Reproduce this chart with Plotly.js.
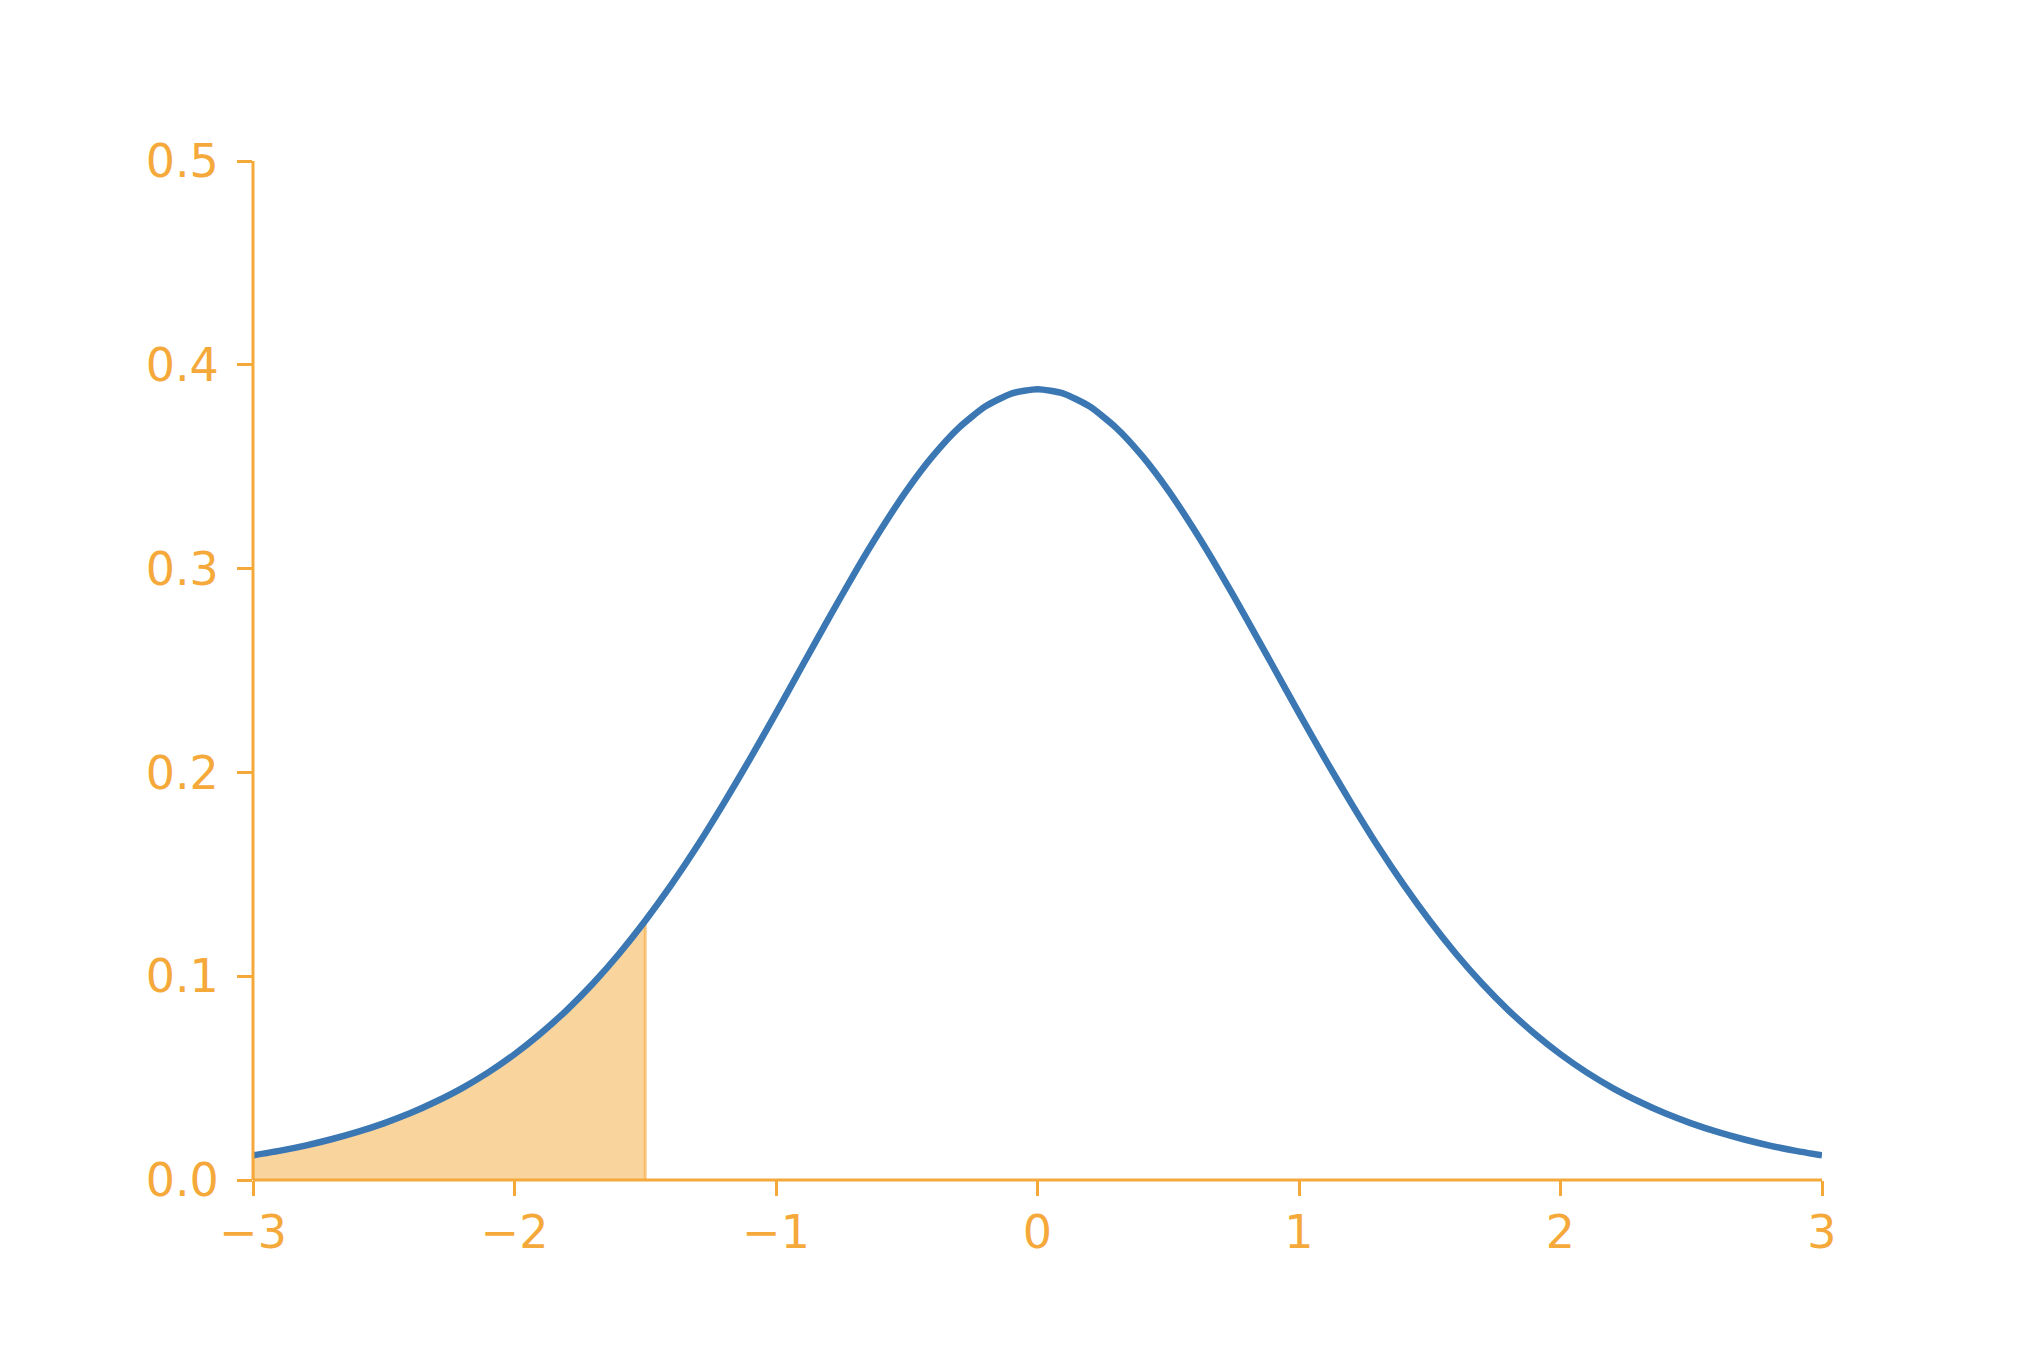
<!DOCTYPE html>
<html>
<head>
<meta charset="utf-8">
<script src="https://cdn.plot.ly/plotly-3.0.1.min.js"></script>
<style>html,body{margin:0;padding:0;background:#fff;}#chart{width:2025px;height:1350px;}</style>
</head>
<body>
<div id="chart"></div>
<script>
// Values (density curve, x step 0.1)
const xValues = [-3.0,-2.9,-2.8,-2.7,-2.6,-2.5,-2.4,-2.3,-2.2,-2.1,-2.0,-1.9,-1.8,-1.7,-1.6,-1.5,-1.4,-1.3,-1.2,-1.1,-1.0,-0.9,-0.8,-0.7,-0.6,-0.5,-0.4,-0.3,-0.2,-0.1,0.0,0.1,0.2,0.3,0.4,0.5,0.6,0.7,0.8,0.9,1.0,1.1,1.2,1.3,1.4,1.5,1.6,1.7,1.8,1.9,2.0,2.1,2.2,2.3,2.4,2.5,2.6,2.7,2.8,2.9,3.0];
const yValues = [0.0121,0.0143,0.0169,0.0200,0.0236,0.0278,0.0327,0.0385,0.0451,0.0528,0.0617,0.0719,0.0834,0.0964,0.1110,0.1272,0.1449,0.1641,0.1848,0.2065,0.2291,0.2522,0.2752,0.2977,0.3189,0.3384,0.3553,0.3692,0.3795,0.3859,0.3880,0.3859,0.3795,0.3692,0.3553,0.3384,0.3189,0.2977,0.2752,0.2522,0.2291,0.2065,0.1848,0.1641,0.1449,0.1272,0.1110,0.0964,0.0834,0.0719,0.0617,0.0528,0.0451,0.0385,0.0327,0.0278,0.0236,0.0200,0.0169,0.0143,0.0121];
const shadeUpTo = -1.5;
const xTicks = [-3,-2,-1,0,1,2,3];
const yTicks = [0.0,0.1,0.2,0.3,0.4,0.5];

const orange = '#f5a93b';
const blue = '#3a77b3';

// shaded region polygon built from the curve values
const sx = [], sy = [];
xValues.forEach((x, i) => { if (x <= shadeUpTo + 1e-9) { sx.push(x); sy.push(yValues[i]); } });
const polyX = [sx[0]].concat(sx, [sx[sx.length-1]]);
const polyY = [0].concat(sy, [0]);

const traces = [
  {x: polyX, y: polyY, mode: 'lines', fill: 'toself', fillcolor: 'rgba(245,169,59,0.5)',
   line: {color: 'rgba(245,169,59,0.6)', width: 3}, hoverinfo: 'skip', showlegend: false},
  {x: xValues, y: yValues, mode: 'lines', line: {color: blue, width: 6.5, shape: 'spline', smoothing: 0.6}, showlegend: false}
];

const axisCommon = {
  showline: false,
  ticks: 'outside', ticklen: 15, tickwidth: 3, tickcolor: orange,
  showgrid: false, zeroline: false,
  tickfont: {family: 'DejaVu Sans', size: 46, color: orange}
};

const xMin = xTicks[0], xMax = xTicks[xTicks.length-1];
const yMin = yTicks[0], yMax = yTicks[yTicks.length-1];

const layout = {
  width: 2025, height: 1350,
  margin: {l: 253, r: 203, t: 161, b: 170},
  paper_bgcolor: '#fff', plot_bgcolor: '#fff',
  xaxis: Object.assign({}, axisCommon, {range: [xMin, xMax], tickvals: xTicks, ticklabelstandoff: -3}),
  yaxis: Object.assign({}, axisCommon, {range: [yMin, yMax], tickvals: yTicks, tickformat: '.1f', ticklabelstandoff: 9}),
  shapes: [
    {type: 'line', xref: 'paper', yref: 'paper', x0: 0, x1: 0, y0: 0, y1: 1, line: {color: orange, width: 3}, layer: 'above'},
    {type: 'line', xref: 'paper', yref: 'paper', x0: 0, x1: 1, y0: 0, y1: 0, line: {color: orange, width: 3}, layer: 'above'}
  ]
};

Plotly.newPlot('chart', traces, layout, {displayModeBar: false, staticPlot: true});
</script>
</body>
</html>
